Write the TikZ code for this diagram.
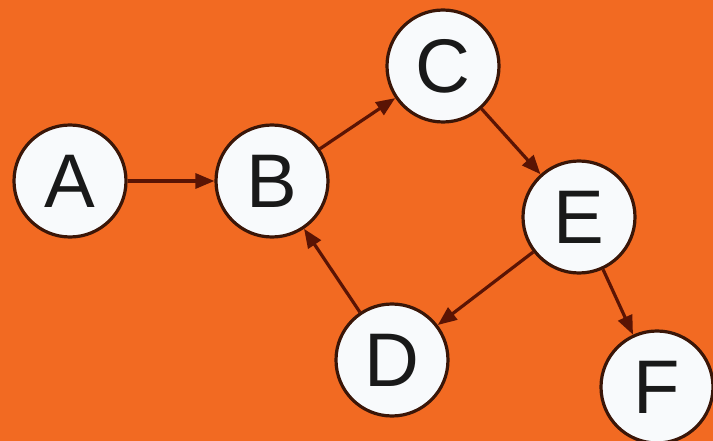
\documentclass[tikz,border=0pt]{standalone}
\usepackage{fontspec}
\setmainfont{Liberation Sans}
\usetikzlibrary{arrows.meta}
\definecolor{bgorange}{HTML}{F26A22}
\definecolor{ringbrown}{HTML}{3A1608}
\definecolor{arrowbrown}{HTML}{5A1404}
\definecolor{nodewhite}{HTML}{F8FAFC}
\begin{document}
\begin{tikzpicture}[x=1pt,y=-1pt,
  vertex/.style={circle,draw=ringbrown,fill=nodewhite,line width=3.2pt,minimum size=112pt,inner sep=0pt,text=black!90,font=\fontsize{76}{76}\selectfont},
  edge/.style={draw=arrowbrown,line width=3.2pt,-{Triangle[length=19pt,width=15pt]}}]
\fill[bgorange] (0,0) rectangle (713,441);
\useasboundingbox (0,0) rectangle (713,441);
\node[vertex] (A) at (70,181) {A};
\node[vertex] (B) at (272,181) {B};
\node[vertex] (C) at (443,66) {C};
\node[vertex] (E) at (579,217) {E};
\node[vertex] (D) at (392,360) {D};
\node[vertex] (F) at (657,387) {F};
\draw[edge] (A) -- (B);
\draw[edge] (B) -- (C);
\draw[edge] (C) -- (E);
\draw[edge] (E) -- (D);
\draw[edge] (E) -- (F);
\draw[edge] (D) -- (B);
\end{tikzpicture}
\end{document}
